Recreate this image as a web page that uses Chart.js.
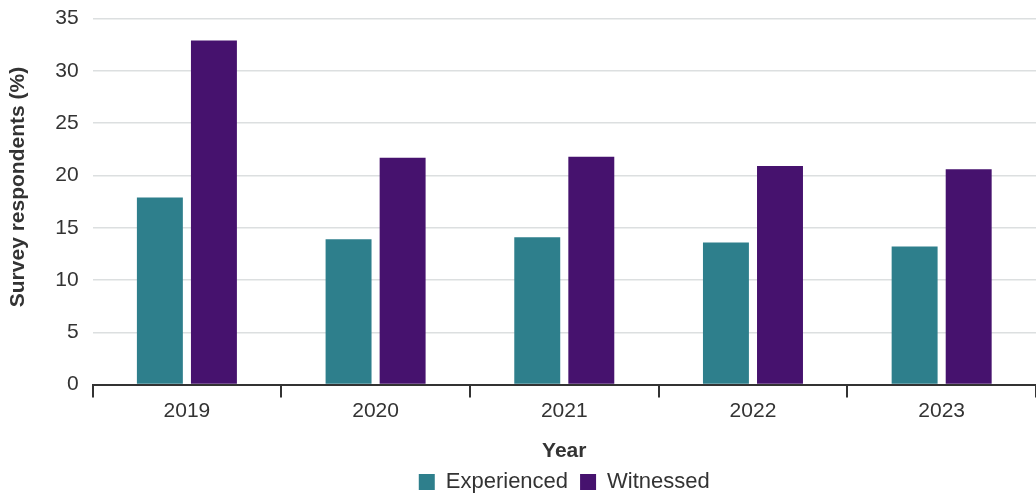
<!DOCTYPE html>
<html>
<head>
<meta charset="utf-8">
<script src="https://cdn.jsdelivr.net/npm/chart.js@4.4.1/dist/chart.umd.min.js"></script>
<style>
  html, body { margin: 0; padding: 0; background: #fff; overflow: hidden; }
  #wrap { width: 1036px; height: 494px; overflow: hidden; }
  #chart { margin-top: -8px; display: block; }
</style>
</head>
<body>
<div id="wrap"><canvas id="chart" width="1036" height="502"></canvas></div>
<script>
const years = ['2019', '2020', '2021', '2022', '2023'];
const experienced = [17.9, 13.9, 14.1, 13.6, 13.2];
const witnessed = [32.9, 21.7, 21.8, 20.9, 20.6];
const yTicks = [0, 5, 10, 15, 20, 25, 30, 35];

const fontFamily = '"Liberation Sans", Arial, sans-serif';
const textColor = '#333';

Chart.defaults.font.family = fontFamily;
Chart.defaults.color = textColor;

// y title sits a bit above the middle of the axis in the original
const yTitle = '\u00a0\u00a0\u00a0\u00a0\u00a0Survey respondents (%)';

new Chart(document.getElementById('chart'), {
  type: 'bar',
  data: {
    labels: years,
    datasets: [
      {
        label: 'Experienced',
        data: experienced,
        backgroundColor: '#2e7f8c',
        categoryPercentage: 0.573,
        barPercentage: 0.85,
      },
      {
        label: 'Witnessed',
        data: witnessed,
        backgroundColor: '#46126e',
        categoryPercentage: 0.573,
        barPercentage: 0.85,
      },
    ],
  },
  options: {
    responsive: false,
    animation: false,
    layout: { padding: { top: 0, right: 0, left: 6, bottom: -9 } },
    plugins: {
      tooltip: { enabled: false },
      legend: {
        position: 'bottom',
        fullSize: false,
        labels: {
          boxWidth: 16,
          boxHeight: 16,
          padding: 12,
          font: { size: 22 },
          color: textColor,
        },
      },
    },
    scales: {
      x: {
        grid: {
          offset: true,
          drawOnChartArea: false,
          drawTicks: true,
          tickLength: 13,
          color: '#333',
          lineWidth: 2,
        },
        border: { display: true, color: '#333', width: 2 },
        ticks: { font: { size: 21 }, color: textColor, padding: 1 },
        title: {
          display: true,
          text: 'Year',
          font: { size: 21, weight: 'bold' },
          color: textColor,
          padding: { top: 14, bottom: -5 },
        },
      },
      y: {
        min: 0,
        max: 35,
        afterBuildTicks: (axis) => {
          axis.ticks = yTicks.map((v) => ({ value: v }));
        },
        grid: { color: '#dcdfe0', lineWidth: 1.5, drawTicks: false },
        border: { display: false },
        ticks: { font: { size: 21 }, color: textColor, padding: 14 },
        title: {
          display: true,
          text: yTitle,
          font: { size: 21, weight: 'bold' },
          color: textColor,
          padding: { top: 0, bottom: 10 },
        },
      },
    },
  },
});
</script>
</body>
</html>
